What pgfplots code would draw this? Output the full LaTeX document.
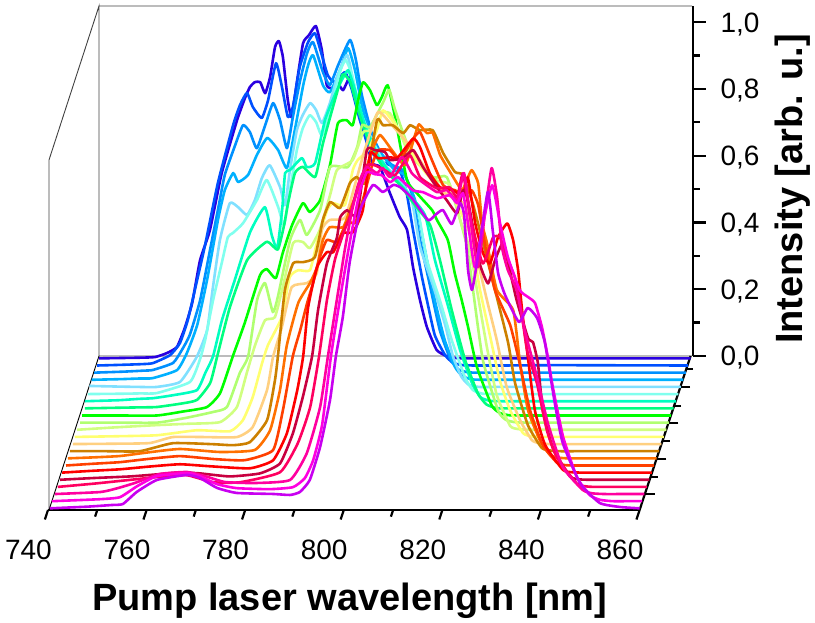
\documentclass[border=0pt]{standalone}
\usepackage{pgfplots}
\usepackage{fontspec}
\setmainfont{Liberation Sans}
\pgfplotsset{compat=1.18}
\definecolor{c0}{HTML}{2A00E0}\definecolor{c1}{HTML}{0050FF}\definecolor{c2}{HTML}{0090FF}\definecolor{c3}{HTML}{00B0FF}
\definecolor{c4}{HTML}{80E0FF}\definecolor{c5}{HTML}{80FFEE}\definecolor{c6}{HTML}{00FFC0}\definecolor{c7}{HTML}{00FF80}
\definecolor{c8}{HTML}{00FF00}\definecolor{c9}{HTML}{B0FF70}\definecolor{c10}{HTML}{D0FF80}\definecolor{c11}{HTML}{FFFF70}
\definecolor{c12}{HTML}{FFD080}\definecolor{c13}{HTML}{CC8000}\definecolor{c14}{HTML}{FF7000}\definecolor{c15}{HTML}{FF4000}
\definecolor{c16}{HTML}{FF0000}\definecolor{c17}{HTML}{C80040}\definecolor{c18}{HTML}{FF0060}\definecolor{c19}{HTML}{FF00A0}
\definecolor{c20}{HTML}{FF00E0}\definecolor{c21}{HTML}{C800F0}
\pgfplotsset{table/wf/.style={row sep=\\,x expr=\thisrow{n}+#1*0.4926,y expr=\thisrow{i}+#1*0.02138+0.005},
 wv/.style={#1,line width=2.6pt,line join=round,no markers,forget plot,smooth,tension=0.3}}
\begin{document}
\begin{tikzpicture}[x=1pt,y=1pt]
\useasboundingbox (0,0) rectangle (815,623);
\draw[line width=0.9pt,black!75] (49,113)--(49,463)--(99,617)--(99,267) (99,617)--(692,617) (99,267)--(692,267);
\draw[line width=0.9pt,black] (99,267)--(49,113);
% floor axis
\begin{axis}[at={(48pt,113pt)},anchor=south west,x={(4.93pt,0pt)},y={(0.3312pt,1pt)},
 xmin=740,xmax=860,ymin=0,ymax=154,axis x line*=bottom,axis y line*=right,
 xtick={740,760,...,860},minor xtick={750,770,...,850},
 ytick={15.7,51,86.7,122.7},minor ytick={33.3,69.3,104.3,140.7},yticklabels={},
 tick align=outside,major tick length=10pt,minor tick length=7pt,
 tick style={black,line width=2.2pt},axis line style={black,line width=2.2pt,-},
 /pgf/number format/1000 sep={},/pgf/number format/assume math mode=true,
 xticklabel style={font=\fontsize{28}{30}\selectfont,xshift=-12pt,yshift=-17pt},
 xlabel={\fontsize{38}{42}\selectfont\bfseries Pump laser wavelength [nm]},
 every axis x label/.style={at={(rel axis cs:0.5,0)},anchor=center,xshift=6pt,yshift=-91pt}]
\end{axis}
% intensity axis
\begin{axis}[at={(692pt,267pt)},anchor=south west,scale only axis,width=1pt,height=350pt,
 xmin=0,xmax=1,ymin=0,ymax=1.048,hide x axis,axis y line*=right,
 ytick={0,0.2,...,1.01},minor y tick num=1,tick align=outside,
 major tick length=13pt,minor tick length=7pt,
 tick style={black,line width=2.2pt},axis line style={black,line width=2.2pt,-},
 /pgf/number format/.cd,use comma,fixed,fixed zerofill,precision=1,assume math mode=true,/pgfplots/.cd,
 yticklabel style={font=\fontsize{28}{30}\selectfont,xshift=11pt,yshift=-2pt},
 ylabel={\fontsize{38}{42}\selectfont\bfseries Intensity [arb. u.]},
 every axis y label/.style={at={(rel axis cs:1,0.5)},anchor=center,xshift=100pt,yshift=-8pt,rotate=90}]
\end{axis}
% spectra
\begin{axis}[at={(48pt,113pt)},anchor=south west,scale only axis,width=645pt,height=504pt,
 xmin=740,xmax=870.83,ymin=0,ymax=1.509,hide axis,clip=false]
\addplot[wv=c0] table[wf=21] {n i\\740 0\\748.3 .002\\751.4 .004\\753.8 .016\\755.8 .034\\757.4 .091\\758.9 .166\\760.5 .294\\762.5 .384\\764.9 .555\\768 .713\\769.6 .779\\770.6 .812\\771.6 .827\\772.7 .827\\773.7 .794\\774.7 .842\\775.7 .932\\776.5 .95\\777.3 .902\\778.3 .773\\779.1 .722\\780.2 .833\\781.4 .944\\782.6 .968\\784 .995\\785.2 .923\\786.2 .818\\787.3 .809\\788.3 .827\\789.5 .803\\790.9 .842\\792.1 .788\\793.9 .675\\795.4 .585\\797 .573\\799 .495\\801 .423\\802.5 .384\\803.7 .273\\805.1 .175\\806.5 .094\\808.5 .025\\810.6 .006\\812.5 .001\\815 0\\820 0\\830 0\\860 0\\};
\addplot[wv=c1] table[wf=20] {n i\\740.1 0\\745 .002\\749 .004\\751.4 .007\\754.9 .031\\756.9 .067\\758.5 .136\\760.4 .256\\762 .36\\764.6 .546\\767.7 .72\\769.1 .78\\770.5 .816\\771.7 .774\\773.5 .741\\774.8 .795\\776.4 .905\\777.6 .834\\778.8 .744\\779.8 .774\\781.2 .893\\782.9 .968\\784.3 .995\\785.7 .929\\786.9 .869\\788.3 .848\\790.4 .878\\791.8 .825\\793.4 .735\\795.4 .645\\797.5 .615\\799.5 .6\\801.5 .585\\802.9 .516\\804.2 .405\\806 .265\\807 .196\\808.6 .091\\810.7 .031\\812.3 .008\\814.3 .001\\817 0\\822 0\\834 .001\\860 0\\};
\addplot[wv=c2] table[wf=19] {n i\\740 0\\746 .003\\750 .006\\751.9 .008\\756 .029\\757.8 .068\\759.4 .113\\761.5 .217\\763.5 .367\\765.1 .487\\766.5 .592\\768.6 .681\\770.2 .741\\771.6 .72\\773 .672\\774.7 .741\\776.3 .807\\777.7 .756\\779.1 .672\\780.3 .765\\781.8 .876\\783.2 .957\\784.4 .99\\786.4 .9\\787.8 .861\\789.5 .921\\791.9 .996\\793.1 .936\\794.3 .831\\796.4 .712\\798.4 .652\\800.4 .622\\802.6 .606\\804.5 .532\\806.1 .397\\808.1 .262\\810.1 .128\\812.2 .042\\813.8 .01\\815.8 .001\\818 0\\824 0\\835 0\\860 0\\};
\addplot[wv=c3] table[wf=18] {n i\\740 0\\746 .002\\750 .004\\752.4 .005\\757.3 .029\\759.3 .08\\761.4 .164\\763.4 .299\\765.6 .478\\767 .568\\768.7 .619\\769.7 .592\\771.7 .613\\773.5 .673\\775.6 .724\\777.8 .688\\779.6 .634\\781.2 .748\\782.9 .882\\783.9 .942\\784.9 .972\\786.9 .882\\788.3 .861\\790.4 .927\\792 .993\\793.4 .927\\794.8 .822\\796.8 .717\\799.5 .663\\801.5 .627\\803.5 .612\\805.6 .537\\807.6 .388\\809.6 .238\\811.6 .119\\813.7 .038\\815.3 .01\\817.3 .001\\820 0\\826 0\\838 0\\860 0\\};
\addplot[wv=c4] table[wf=17] {n i\\740 .003\\746 .001\\750 0\\753.7 0\\758.4 .015\\761.8 .09\\763.9 .17\\765 .29\\766.5 .44\\768.5 .55\\770.2 .538\\772 .515\\773.6 .56\\775 .625\\776.6 .664\\778.7 .598\\779.7 .544\\780.7 .649\\782.1 .769\\783.3 .814\\784.8 .85\\786 .829\\787.2 .79\\788.8 .85\\790.4 .934\\792.3 .994\\793.5 .919\\794.9 .829\\796.9 .754\\800 .664\\803 .619\\805.4 .559\\807.1 .419\\809.7 .305\\812.1 .19\\813.8 .09\\815.5 .03\\817 .006\\819 0\\822 0\\828 0\\840 0\\860 0\\};
\addplot[wv=c5] table[wf=16] {n i\\740.2 0\\747 .001\\751 .002\\754.2 .003\\760.9 .036\\762.9 .102\\764 .162\\765.6 .281\\767.4 .395\\768.6 .47\\769.6 .482\\771.7 .512\\774.5 .581\\776.5 .641\\778.8 .56\\780 .506\\781.2 .611\\782.6 .731\\783.8 .796\\785.2 .835\\786.5 .814\\787.7 .775\\789.7 .865\\791.3 .964\\792.5 1\\793.8 .955\\795.4 .85\\797.8 .76\\801.1 .671\\804.5 .611\\807.1 .551\\809 .401\\811.6 .281\\814 .162\\816.7 .05\\818.3 .012\\820.3 .001\\823 0\\829 0\\841 0\\860 0\\};
\addplot[wv=c6] table[wf=15] {n i\\740.1 0\\747 .003\\751 .007\\753.9 .009\\758 .018\\762.8 .033\\764.5 .084\\766.1 .135\\767.9 .243\\770.5 .363\\773.6 .506\\776.6 .581\\778 .497\\779.1 .458\\780.1 .572\\780.7 .683\\781.7 .692\\784.1 .728\\785.1 .701\\786.8 .713\\788.8 .842\\790.8 .917\\792.2 .961\\793.5 .991\\794.9 .931\\796.9 .827\\799.5 .737\\802.4 .677\\806 .617\\809.1 .557\\811.1 .422\\813.7 .288\\816.2 .153\\818.6 .055\\820.3 .012\\822.3 .001\\825 0\\831 0\\843 0\\860 0\\};
\addplot[wv=c7] table[wf=14] {n i\\740.6 0\\748 .002\\752 .003\\755.2 .004\\760 .014\\763.3 .025\\766 .076\\767.4 .154\\770 .303\\773.5 .444\\777.5 .499\\779.7 .475\\781 .549\\781.8 .615\\783.2 .705\\784.8 .723\\787.3 .693\\788.9 .795\\791.7 .944\\792.9 1\\794.4 .978\\796 .893\\798.4 .789\\801.4 .714\\804.5 .669\\807.5 .609\\810.6 .549\\812.6 .444\\815 .294\\817.7 .145\\820.3 .045\\822 .012\\824 .001\\827 0\\833 0\\845 0\\860 0\\};
\addplot[wv=c8] table[wf=13] {n i\\740.5 0\\748 0\\755.7 0\\761 .012\\765.8 .025\\768.5 .067\\771.1 .178\\773.5 .277\\776.6 .42\\778 .438\\779.8 .411\\781.2 .486\\783.1 .57\\785.3 .636\\786.7 .609\\788.8 .645\\790.8 .75\\792.4 .875\\794.2 .884\\795.4 .869\\796.5 .944\\797.5 .998\\798.9 .974\\800.3 .929\\801.3 .953\\802.5 .989\\804 .893\\806.4 .705\\808.4 .666\\811.5 .615\\812.5 .585\\814.7 .525\\816.1 .426\\817.5 .346\\818.8 .265\\820.6 .145\\823.6 .03\\825.2 .008\\827 .001\\830 0\\836 0\\847 0\\860 0\\};
\addplot[wv=c9] table[wf=12] {n i\\740.6 0\\748 0\\756.2 0\\762 .014\\767.6 .032\\770.4 .047\\773 .149\\774.7 .199\\776.5 .367\\778.1 .418\\779.7 .331\\780.7 .376\\783.2 .547\\785.2 .607\\786.6 .562\\789.3 .637\\791.3 .765\\794.9 .765\\796.8 .825\\797.8 .891\\799.4 .885\\802 .957\\803.3 .996\\804.5 .936\\807.5 .816\\812.2 .735\\815 .735\\817.7 .606\\819.1 .525\\820.3 .397\\822.3 .187\\825.4 .035\\827 .008\\829 .001\\832 0\\838 0\\848 0\\860 0\\};
\addplot[wv=c10] table[wf=11] {n i\\740.5 0\\748 .007\\756.7 .014\\763 .018\\769.5 .023\\772.9 .068\\774.9 .17\\776.6 .254\\778.6 .328\\780.6 .337\\782.2 .427\\784.3 .559\\786.3 .562\\787.7 .544\\789.7 .598\\791.8 .703\\793.2 .778\\796.4 .808\\798.5 .891\\799.9 .897\\801.5 .948\\803.9 .948\\806 .888\\808 .822\\813.1 .748\\816.1 .733\\818.5 .613\\820.2 .538\\821.6 .418\\823.6 .248\\825.6 .104\\828.3 .012\\830 .002\\832 0\\835 0\\841 0\\850 0\\860 0\\};
\addplot[wv=c11] table[wf=10] {n i\\740.5 0\\749 .002\\757.2 .005\\765.3 .02\\772 .017\\774.6 .05\\776.6 .119\\778.5 .221\\779.7 .275\\782.5 .359\\784.1 .478\\785.8 .499\\788.2 .499\\789.6 .58\\791.7 .679\\792.9 .7\\795.3 .694\\796.9 .799\\797.9 .829\\800 .859\\801.8 .919\\803 .978\\804.8 .949\\807.1 .898\\810.5 .814\\814.6 .739\\817.6 .709\\820.7 .604\\822.7 .44\\824.7 .305\\826.7 .17\\828.8 .08\\831.4 .012\\833 .002\\835 0\\838 0\\844 0\\852 0\\860 0\\};
\addplot[wv=c12] table[wf=9] {n i\\740.6 0\\749 .001\\756.2 .003\\760.9 .021\\767 .021\\773.9 .021\\777.1 .051\\780 .162\\781.2 .26\\783 .35\\785 .47\\788.1 .482\\790.1 .512\\791.1 .641\\792.7 .671\\795.8 .677\\797.8 .775\\799.8 .88\\802.5 .994\\805.3 .955\\808 .91\\811 .85\\815.1 .76\\820.1 .716\\822.2 .581\\824.6 .431\\826.6 .311\\828.6 .171\\831.3 .072\\833.7 .012\\835.3 .002\\837 0\\840 0\\846 0\\853 0\\860 0\\};
\addplot[wv=c13] table[wf=8] {n i\\740.5 0\\748 0\\754.7 0\\761.4 .024\\769.5 .021\\773.6 .018\\777 .027\\780.5 .093\\782.1 .213\\782.7 .285\\784.1 .482\\785.8 .563\\787.8 .566\\790.2 .581\\791.8 .692\\793.3 .746\\795.3 .728\\797.3 .803\\798.7 .821\\800.4 .803\\802.8 .991\\804 .976\\806 .976\\808.1 .952\\809.5 .976\\811.5 .961\\814.1 .961\\816.2 .893\\818.6 .836\\820.2 .827\\822.3 .737\\824.3 .623\\827.1 .461\\829.4 .324\\830.8 .204\\833.4 .078\\836.2 .01\\838 .002\\840 0\\843 0\\848 0\\854 0\\860 0\\};
\addplot[wv=c14] table[wf=7] {n i\\740.6 0\\746 .003\\751.2 .007\\757 .018\\763.3 .028\\771.4 .019\\778.5 .025\\781.6 .084\\783.6 .204\\785 .339\\787.3 .465\\789.7 .525\\791.1 .572\\792.3 .653\\793.7 .692\\796.4 .692\\797.8 .743\\799.4 .803\\801 .863\\802.3 .923\\803.9 .968\\806.3 .923\\809 .878\\811 .968\\811.8 1\\813.4 .974\\814.6 .974\\816.1 .908\\818.5 .848\\820.5 .803\\821.5 .833\\822.5 .863\\823.8 .824\\824.6 .704\\825.6 .644\\827.6 .504\\830.9 .444\\832.3 .285\\833.9 .145\\836.3 .055\\838.4 .01\\840 .002\\842 0\\845 0\\850 0\\855 0\\860 0\\};
\addplot[wv=c15] table[wf=6] {n i\\740.7 0\\746 .005\\751.7 .01\\757 .019\\763.8 .028\\770.9 .019\\777 .016\\782.7 .046\\784.7 .166\\786.7 .327\\788.2 .405\\789.6 .486\\790.8 .546\\792.2 .624\\793.6 .675\\795.7 .669\\797.7 .729\\799.3 .726\\800.9 .795\\802.8 .9\\804 .944\\806.4 .944\\808.4 .914\\810.9 .974\\812.5 .998\\814.5 .929\\817.2 .839\\819.6 .824\\821.6 .81\\823 .824\\824.3 .78\\825.7 .66\\827.7 .525\\830.8 .42\\832.8 .3\\834.8 .166\\837.4 .061\\840.3 .008\\842 .001\\844 0\\847 0\\851 0\\855 0\\860 0\\};
\addplot[wv=c16] table[wf=5] {n i\\740.4 0\\746 .005\\752.2 .01\\758 .018\\764.3 .025\\770.4 .019\\778.5 .013\\783.2 .037\\786 .118\\788.1 .247\\789.3 .349\\790.3 .495\\792.1 .615\\794.1 .66\\795.4 .66\\797.4 .717\\799.4 .72\\801.4 .786\\802.9 .956\\804.5 .941\\806.9 .944\\808.5 .944\\811.6 1\\813 .974\\815 .896\\817.1 .854\\819.7 .845\\821.7 .83\\822.7 .884\\824.2 .746\\825.8 .656\\827.2 .626\\828.8 .704\\830.7 .746\\831.9 .695\\832.9 .605\\833.7 .486\\834.7 .366\\836.3 .186\\838.4 .082\\842 .008\\844 .001\\846 0\\849 0\\852 0\\856 0\\860 0\\};
\addplot[wv=c17] table[wf=4] {n i\\740.5 0\\747 .005\\754.7 .01\\760 .016\\764.8 .022\\768.9 .019\\774.9 .01\\781 .019\\785.1 .049\\787.7 .139\\789.7 .247\\791.6 .37\\792.8 .507\\794.6 .648\\796.6 .723\\797.3 .786\\798.7 .807\\800.7 .792\\802.7 .987\\804.3 .987\\806.4 .981\\807.4 .957\\810 .963\\812.1 .987\\814.1 .936\\816.9 .876\\818.9 .837\\821 .798\\822.2 .867\\823.2 .837\\825.6 .648\\827.3 .588\\828.7 .657\\830.3 .708\\831.7 .627\\833.1 .537\\835.4 .424\\836.4 .412\\837.4 .349\\838.4 .208\\840.4 .097\\843.9 .01\\846 .001\\848 0\\851 0\\854 0\\857 0\\860 0\\};
\addplot[wv=c18] table[wf=3] {n i\\740.5 0\\748 .01\\754.5 .02\\761 .03\\766.7 .035\\772 .014\\777.5 .014\\785.6 .044\\789.2 .131\\791.7 .239\\793.5 .391\\795.1 .559\\796.7 .679\\798.3 .754\\799.8 .813\\801.4 .903\\803.2 .963\\804.8 .963\\806.9 .948\\808.9 .933\\811.9 .993\\814 .927\\817.4 .894\\820 .897\\821.5 .867\\822.7 .939\\824.1 .813\\826.7 .669\\828.8 .747\\830.2 .747\\831.6 .688\\833.2 .628\\834.2 .559\\835.7 .409\\837.7 .31\\839.7 .17\\841.7 .089\\845.8 .01\\848 .001\\850 0\\853 0\\856 0\\860 0\\};
\addplot[wv=c19] table[wf=2] {n i\\740.4 0\\749.6 .006\\753 .017\\756.6 .033\\761.7 .06\\767.2 .066\\770.8 .054\\774.9 .036\\781 .033\\788.1 .042\\791.5 .122\\794.2 .26\\795.8 .413\\797.6 .581\\799.2 .73\\800.7 .85\\802.3 .94\\803.7 .979\\805.7 .961\\806.9 .976\\808.4 .949\\810.8 1.009\\812.8 .961\\814.4 .94\\817.9 .904\\819.9 .91\\822 .88\\823.4 .961\\824.6 .835\\826.2 .679\\827.6 .835\\829 .976\\830.1 .889\\831.1 .739\\832.3 .67\\834.1 .61\\835.7 .491\\838.2 .35\\840.4 .212\\843.4 .081\\847.5 .012\\849.5 .002\\852 0\\855 0\\860 0\\};
\addplot[wv=c20] table[wf=1] {n i\\740.3 0\\750.1 .006\\754.1 .012\\757.6 .045\\761.6 .075\\767.7 .084\\770.3 .075\\773.8 .051\\777.8 .039\\784.5 .036\\789.2 .042\\791.6 .069\\793.3 .123\\795.1 .228\\796.9 .434\\798.7 .602\\800.8 .782\\802.8 .931\\804.2 .985\\805.8 .979\\807.2 .976\\808.9 .955\\810.5 .97\\813.5 .931\\815.6 .925\\818.4 .907\\821 .916\\822.5 .892\\823.7 .922\\824.9 .811\\826.1 .7\\827.7 .826\\829.6 .946\\831.2 .832\\832.8 .73\\835.2 .632\\836.9 .611\\838.3 .593\\839.7 .521\\840.9 .431\\841.9 .342\\844 .192\\846.8 .072\\849.4 .018\\851.5 .004\\854 0\\857 0\\860 0\\};
\addplot[wv=c21] table[wf=0] {n i\\740.4 0\\748 .005\\753 .01\\755.2 .013\\758 .049\\762.1 .085\\768.2 .1\\770.8 .091\\774.3 .061\\778.3 .046\\785.6 .043\\789.1 .04\\791.1 .049\\793.1 .085\\795.2 .184\\797.2 .324\\798.4 .456\\799.8 .573\\801.2 .737\\803.3 .893\\805.9 .968\\807.9 .947\\810 .968\\811.4 .962\\813.8 .929\\817.1 .863\\818.5 .878\\820.1 .893\\821.9 .851\\823.6 .914\\824.4 .878\\825.2 .714\\826 .654\\827 .734\\829.2 .947\\830.2 .833\\831.3 .704\\832.7 .639\\835.5 .558\\837.3 .6\\839.2 .57\\840.8 .495\\842.8 .315\\844.4 .196\\847.9 .076\\851.9 .016\\856 .004\\860 0\\};
\end{axis}
\end{tikzpicture}
\end{document}
